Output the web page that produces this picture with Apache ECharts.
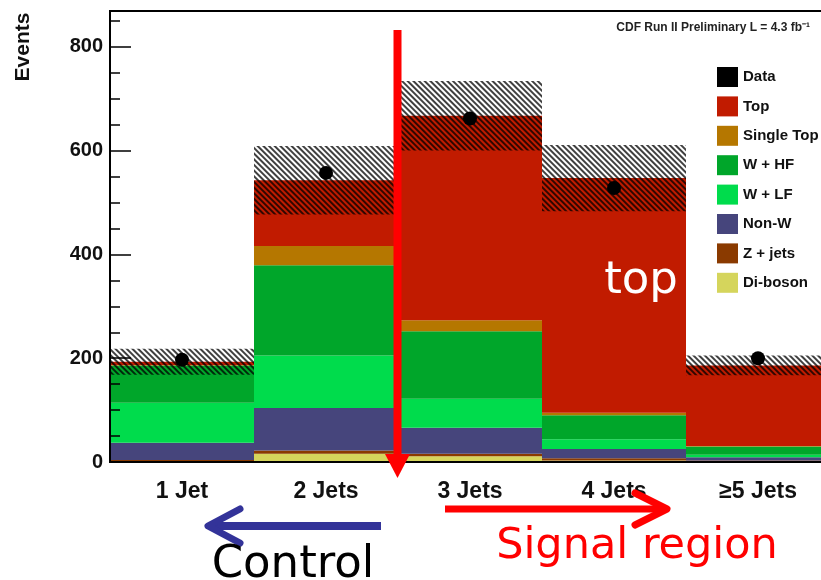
<!DOCTYPE html>
<html><head><meta charset="utf-8">
<script src="https://cdn.jsdelivr.net/npm/echarts@6/dist/echarts.min.js"></script>
<style>html,body{margin:0;background:#fff;overflow:hidden}#c{width:830px;height:580px}</style>
</head><body><div id="c"></div>
<script>
const categories = ['1 Jet', '2 Jets', '3 Jets', '4 Jets', '≥5 Jets'];
const diboson   = [2, 16, 11, 3, 1];
const zjets     = [2, 6, 5, 4, 2];
const nonW      = [33, 82, 50, 18, 6];
const wLF       = [77, 101, 56, 19, 5];
const wHF       = [72, 174, 130, 46, 16];
const singleTop = [1, 37, 21, 5, 1];
const topPair   = [6, 127, 394, 452, 155];
const uncertainty = [25, 66, 67, 64, 19];
const dataCounts  = [197, 557, 662, 528, 200];
const legendNames = ['Data', 'Top', 'Single Top', 'W + HF', 'W + LF', 'Non-W', 'Z + jets', 'Di-boson'];

const FONT = '"Liberation Sans", Arial, sans-serif';
const totals = categories.map((_, i) => diboson[i] + zjets[i] + nonW[i] + wLF[i] + wHF[i] + singleTop[i] + topPair[i]);
const bandBase = totals.map((t, i) => t - uncertainty[i]);
const bandSpan = uncertainty.map(u => 2 * u);

function stackBar(name, data, color) {
  return { name, type: 'bar', stack: 'mc', data, barWidth: '100%', barGap: '-100%',
    itemStyle: { color }, emphasis: { disabled: true }, z: 2 };
}

const chart = echarts.init(document.getElementById('c'));
chart.setOption({
  animation: false,
  backgroundColor: '#fff',
  grid: { left: 110, top: 11, right: 0, bottom: 118, show: true, borderColor: '#000', borderWidth: 2, backgroundColor: 'transparent' },
  legend: {
    orient: 'vertical', left: 712, top: 62, itemWidth: 21, itemHeight: 20, itemGap: 9.4, icon: 'rect',
    textStyle: { fontFamily: FONT, fontWeight: 'bold', fontSize: 15, color: '#111' },
    data: legendNames, selectedMode: false
  },
  xAxis: {
    type: 'category', data: categories, z: 10,
    axisLine: { lineStyle: { color: '#000', width: 2 } },
    axisTick: { show: false },
    axisLabel: { fontFamily: FONT, fontWeight: 'bold', fontSize: 23, color: '#111', margin: 18 }
  },
  yAxis: [
    { type: 'value', min: 0, max: 869, interval: 200, position: 'left', z: 10,
      axisLine: { show: true, lineStyle: { color: '#000', width: 2 } },
      axisTick: { show: true, inside: true, length: 21, lineStyle: { color: '#000', width: 1.5 } },
      axisLabel: { fontFamily: FONT, fontWeight: 'bold', fontSize: 20, color: '#111', margin: 7, showMaxLabel: false },
      splitLine: { show: false } },
    { type: 'value', min: 0, max: 869, interval: 50, position: 'left', z: 10,
      axisLine: { show: false },
      axisTick: { show: true, inside: true, length: 10, lineStyle: { color: '#000', width: 1.5 } },
      axisLabel: { show: false }, splitLine: { show: false } }
  ],
  series: [
    stackBar('Di-boson', diboson, '#d5d55c'),
    stackBar('Z + jets', zjets, '#8a3a00'),
    stackBar('Non-W', nonW, '#46457c'),
    stackBar('W + LF', wLF, '#00dc4c'),
    stackBar('W + HF', wHF, '#00a62a'),
    stackBar('Single Top', singleTop, '#b57700'),
    stackBar('Top', topPair, '#c11b00'),
    { type: 'bar', stack: 'band', data: bandBase, barWidth: '100%', barGap: '-100%', silent: true,
      itemStyle: { color: 'rgba(0,0,0,0)' }, z: 3 },
    { type: 'bar', stack: 'band', data: bandSpan, barWidth: '100%', barGap: '-100%', silent: true,
      itemStyle: { color: 'rgba(0,0,0,0)',
        decal: { symbol: 'rect', symbolSize: 1, color: 'rgba(0,0,0,0.75)', backgroundColor: null,
                 dashArrayX: [1, 0], dashArrayY: [2, 2], rotation: Math.PI / 4 } }, z: 3 },
    { name: 'Data', type: 'scatter', data: dataCounts, symbolSize: 14, itemStyle: { color: '#000', opacity: 1 }, z: 5 }
  ],
  graphic: [
    { type: 'text', x: 23, y: 47, rotation: Math.PI / 2, z: 100,
      style: { text: 'Events', font: 'bold 21px ' + FONT, fill: '#111', align: 'center', verticalAlign: 'middle' } },
    { type: 'text', x: 810, y: 28, z: 100,
      style: { text: 'CDF Run II Preliminary L = 4.3 fb⁻¹', font: 'bold 12px ' + FONT, fill: '#222', align: 'right', verticalAlign: 'middle' } },
    { type: 'text', x: 641, y: 281, z: 100,
      style: { text: 'top', font: '45px "DejaVu Sans"', fill: '#fff', align: 'center', verticalAlign: 'middle' } },
    { type: 'rect', z: 100, shape: { x: 393.5, y: 30, width: 8, height: 426 }, style: { fill: '#ff0000' } },
    { type: 'polygon', z: 100, shape: { points: [[385, 454], [410, 454], [397.5, 478]] }, style: { fill: '#ff0000' } },
    { type: 'line', z: 100, shape: { x1: 381, y1: 526, x2: 210, y2: 526 }, style: { stroke: '#333399', lineWidth: 8 } },
    { type: 'polyline', z: 100, shape: { points: [[240, 509], [208, 526], [240, 543]] },
      style: { stroke: '#333399', lineWidth: 7, lineCap: 'round', lineJoin: 'round', fill: null } },
    { type: 'line', z: 100, shape: { x1: 445, y1: 509, x2: 665, y2: 509 }, style: { stroke: '#ff0000', lineWidth: 7 } },
    { type: 'polyline', z: 100, shape: { points: [[635, 493], [667, 509], [635, 525]] },
      style: { stroke: '#ff0000', lineWidth: 7, lineCap: 'round', lineJoin: 'round', fill: null } },
    { type: 'text', x: 293, y: 565, z: 100,
      style: { text: 'Control', font: '45px "DejaVu Sans"', fill: '#000', align: 'center', verticalAlign: 'middle' } },
    { type: 'text', x: 637, y: 547, z: 100,
      style: { text: 'Signal region', font: '43px "DejaVu Sans"', fill: '#ff0000', align: 'center', verticalAlign: 'middle' } }
  ]
});
</script></body></html>
